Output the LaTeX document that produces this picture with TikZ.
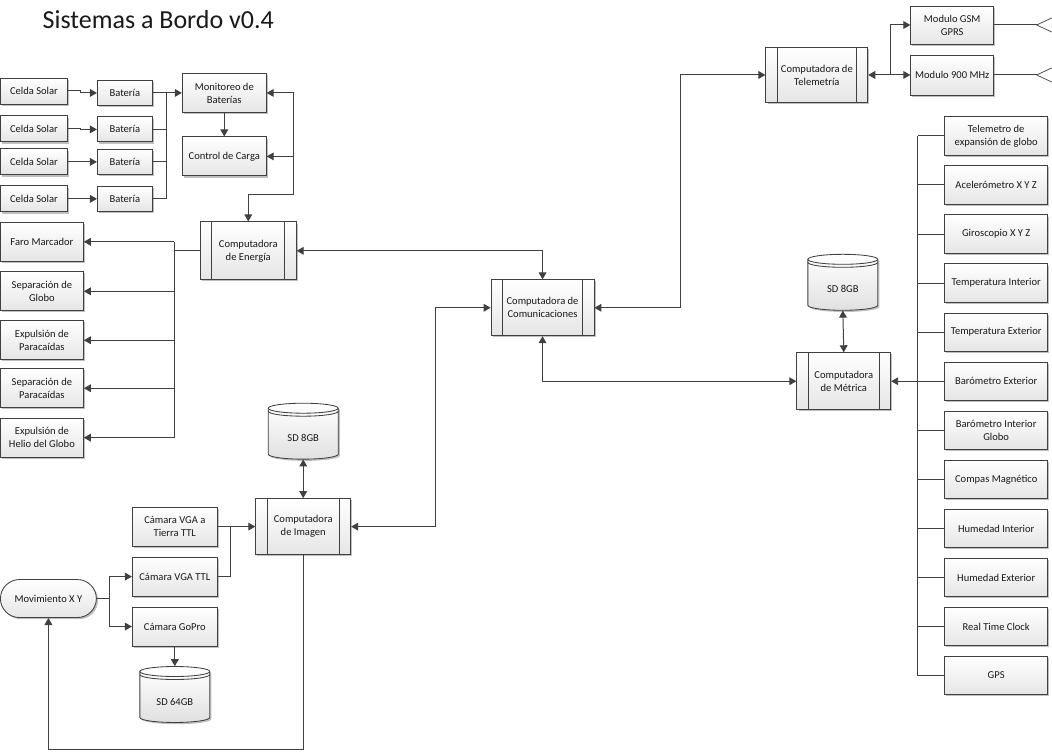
\documentclass[tikz,border=0pt]{standalone}
\usepackage{fontspec}
\setmainfont{Carlito}
\usetikzlibrary{arrows.meta,shadows}
\newcommand\sdcard[4]{
	\begin{scope}[shift = {(#2,#3)}]
		\draw[line, line width=0.6pt, top color=white, bottom color=black!12, drop shadow={shadow xshift=1.2pt, shadow yshift=-1.2pt, opacity=0.25, fill=black}] (-35,-23) -- (-35,23) arc[start angle=180, end angle=0, x radius=35, y radius=5] -- (35,-23) arc[start angle=0, end angle=-180, x radius=35, y radius=5] -- cycle;
		\draw[line, line width=0.6pt] (-35,-23) arc[start angle=180, end angle=0, x radius=35, y radius=5];
		\draw[line, line width=0.6pt] (-35,-20) arc[start angle=180, end angle=0, x radius=35, y radius=5];
	\end{scope}
	\node[minimum width=1.75cm, minimum height=1.4cm, inner sep=0pt] (#1) at (#2,#3) {};
	\node[font=\fontsize{7.5}{9.2}\selectfont, text=black!90] (#1-txt) at (#2,#3+7) {#4};
	}

\begin{document}
\begin{tikzpicture}[x=0.025cm, y=-0.025cm,
	line/.style={draw=black!75, line width=0.7pt},
	arr/.style={line, -{Triangle[length=5pt,width=5.5pt]}},
	arr2/.style={line, {Triangle[length=5pt,width=5.5pt]}-{Triangle[length=5pt,width=5.5pt]}},
	box/.style={draw=black!75, line width=0.6pt, top color=white, bottom color=black!10, drop shadow={shadow xshift=1.2pt, shadow yshift=-1.2pt, opacity=0.25, fill=black}, align=center, font=\fontsize{7.5}{9.2}\selectfont, text=black!90, inner sep=1pt}]

	\path[fill=white] (0,0) rectangle (1052,752);
	\node[anchor=base west, inner sep=0pt, font=\fontsize{18.5}{22}\selectfont, text=black!90] (title) at (42,29) {Sistemas a Bordo v0.4};

	% energia
	\foreach \i/\yc/\yb in {1/91/93, 2/129/129.5, 3/162/162, 4/199/199} {
		\node[box, minimum width=1.675cm, minimum height=0.65cm] (c\i) at (33.5,\yc) {Celda Solar};
		\node[box, minimum width=1.375cm, minimum height=0.625cm] (b\i) at (124.5,\yb) {Batería};
		\draw[arr] (c\i.east) -- ++(13,0) |- (b\i.west);
	}
	\node[box, minimum width=2.1cm, minimum height=0.975cm] (moni) at (224,93) {Monitoreo de\\Baterías};
	\node[box, minimum width=2.1cm, minimum height=0.975cm] (carga) at (224,156.5) {Control de Carga};
	\node[box, minimum width=2.4cm, minimum height=1.45cm] (ener) at (248,251) {Computadora\\de Energía};

	\coordinate (jb) at (166,93);
	\draw[arr] (b1) -- (moni);
	\foreach \i in {2,3,4}
		\draw[line] (b\i.east) -| (jb);
	\draw[arr] (moni) -- (carga);

	\coordinate (jr) at (293,195);
	\draw[arr] (jr) |- (moni.east);
	\draw[arr] (jr |- carga.east) -- (carga.east);
	\draw[arr] (jr) -| (ener.north);

	\foreach \n/\y/\txt in {faro/242/Faro Marcador, sepg/291.5/{Separación de\\Globo}, expp/340.5/{Expulsión de\\Paracaídas}, sepp/388.5/{Separación de\\Paracaídas}, helio/438/{Expulsión de\\Helio del Globo}}
		\node[box, minimum width=2.075cm, minimum height=0.975cm] (\n) at (41.5,\y) {\txt};

	\coordinate (je) at (174,251);
	\draw[line] (ener.west) -- (je);
	\draw[line] (je |- faro.east) -- (je |- helio.east);
	\foreach \n in {faro,sepg,expp,sepp,helio}
		\draw[arr] (je |- \n.east) -- (\n.east);

	% computadoras
	\node[box, minimum width=2.575cm, minimum height=1.4cm] (comu) at (542.5,308) {Computadora de\\Comunicaciones};
	\node[box, minimum width=2.55cm, minimum height=1.375cm] (tele) at (817,75) {Computadora de\\Telemetría};
	\node[box, minimum width=2.35cm, minimum height=1.425cm] (metr) at (844,381.5) {Computadora\\de Métrica};
	\node[box, minimum width=2.375cm, minimum height=1.4cm] (imag) at (303,527) {Computadora\\de Imagen};
	\foreach \n in {ener,comu,tele,metr,imag} {
		\draw[line, line width=0.6pt] ([xshift=0.3cm]\n.north west) -- ([xshift=0.3cm]\n.south west);
		\draw[line, line width=0.6pt] ([xshift=-0.3cm]\n.north east) -- ([xshift=-0.3cm]\n.south east);
	}

	\draw[arr2] (ener.east) -| (comu.north);
	\coordinate (jc) at (435,308);
	\draw[arr2] (comu.west) -- (jc) |- (imag.east);
	\coordinate (jt) at (681,308);
	\draw[arr2] (comu.east) -- (jt) |- (tele.west);
	\draw[arr2] (comu.south) |- (metr.west);

	% telemetria
	\node[box, minimum width=2.075cm, minimum height=0.95cm] (gsm) at (952.5,25) {Modulo GSM\\GPRS};
	\node[box, minimum width=2.075cm, minimum height=1cm] (mhz) at (952.5,75) {Modulo 900 MHz};
	\coordinate (jm) at (891,75);
	\draw[arr2] (tele.east) -- (mhz.west);
	\draw[arr] (jm) |- (gsm.west);
	\coordinate (ant1) at (1037,25);
	\coordinate (ant2) at (1037,75);
	\draw[line] (gsm.east) -- (ant1);
	\draw[line] (mhz.east) -- (ant2);
	\foreach \a in {ant1,ant2}
		\draw[line, line width=0.5pt] (\a) -- ++(15,-7) (\a) -- ++(15,7);

	% metrica
	\sdcard{sd1}{843}{282.5}{SD 8GB}
	\draw[arr2] (sd1.south) -- (metr.north);
	\foreach \i/\txt in {0/{Telemetro de\\expansión de globo}, 1/Acelerómetro X Y Z, 2/Giroscopio X Y Z, 3/Temperatura Interior, 4/Temperatura Exterior, 5/Barómetro Exterior, 6/{Barómetro Interior\\Globo}, 7/Compas Magnético, 8/Humedad Interior, 9/Humedad Exterior, 10/Real Time Clock, 11/GPS}
		\node[box, minimum width=2.575cm, minimum height=0.96cm] (s\i) at (996.5,{136+49.1*\i}) {\txt};
	\coordinate (js) at (918,381.5);
	\draw[line] (s0.west -| js) -- (s11.west -| js);
	\foreach \i in {0,...,11}
		\draw[line] (s\i.west) -- (s\i.west -| js);
	\draw[arr] (js) -- (metr.east);

	% imagen
	\sdcard{sd2}{303}{431.5}{SD 8GB}
	\draw[arr2] (sd2.south) -- (imag.north);
	\node[box, minimum width=2.125cm, minimum height=0.975cm] (cam1) at (174.5,527) {Cámara VGA a\\Tierra TTL};
	\node[box, minimum width=2.125cm, minimum height=0.975cm] (cam2) at (174.5,577) {Cámara VGA TTL};
	\node[box, minimum width=2.125cm, minimum height=0.975cm] (gopro) at (174.5,627) {Cámara GoPro};
	\node[box, minimum width=2.4cm, minimum height=0.95cm, rounded corners=0.475cm] (movi) at (48,599) {Movimiento X Y};
	\sdcard{sd3}{174.5}{695}{SD 64GB}

	\draw[arr] (cam1.east) -- (imag.west);
	\coordinate (jv) at (230,527);
	\draw[line] (cam2.east) -| (jv);
	\coordinate (jx) at (109,599);
	\draw[line] (movi.east) -- (jx);
	\draw[arr] (jx) |- (cam2.west);
	\draw[arr] (jx) |- (gopro.west);
	\draw[arr] (gopro) -- (sd3);
	\coordinate (jb2) at (303,750);
	\draw[arr] (imag.south) -- (jb2) -| (movi.south);

\end{tikzpicture}
\end{document}
